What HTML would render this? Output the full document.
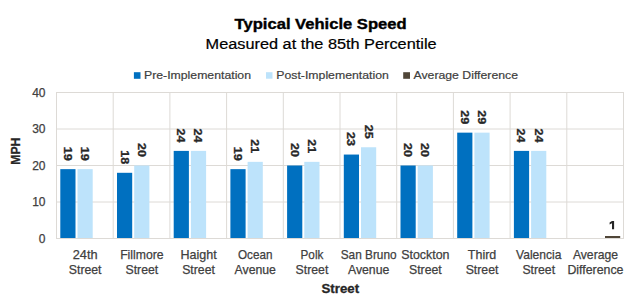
<!DOCTYPE html><html><head><meta charset="utf-8"><style>html,body{margin:0;padding:0;background:#fff;width:640px;height:304px;overflow:hidden}svg{display:block}text{font-family:"Liberation Sans",sans-serif}</style></head><body>
<svg width="640" height="304" viewBox="0 0 640 304">
<text x="320.6" y="29.1" text-anchor="middle" font-weight="bold" font-size="14.4" fill="#000" stroke="#000" stroke-width="0.35" textLength="172" lengthAdjust="spacingAndGlyphs">Typical Vehicle Speed</text>
<text x="321.1" y="48.8" text-anchor="middle" font-size="14" fill="#000" stroke="#000" stroke-width="0.2" textLength="231" lengthAdjust="spacingAndGlyphs">Measured at the 85th Percentile</text>
<rect x="133.9" y="72.2" width="6.6" height="6.6" fill="#0070C0"/>
<text x="144.0" y="79.3" font-size="11.6" fill="#404040" stroke="#404040" stroke-width="0.2" textLength="107" lengthAdjust="spacingAndGlyphs">Pre-Implementation</text>
<rect x="266" y="72.2" width="6.5" height="6.5" fill="#BDE3FB"/>
<text x="276.3" y="79.3" font-size="11.6" fill="#404040" stroke="#404040" stroke-width="0.2" textLength="112.5" lengthAdjust="spacingAndGlyphs">Post-Implementation</text>
<rect x="403.2" y="72.2" width="6.8" height="6.6" fill="#504638"/>
<text x="413.5" y="79.3" font-size="11.6" fill="#404040" stroke="#404040" stroke-width="0.2" textLength="104.5" lengthAdjust="spacingAndGlyphs">Average Difference</text>
<line x1="56.0" y1="92.5" x2="624.0" y2="92.5" stroke="#DDDAD6" stroke-width="1"/>
<line x1="56.0" y1="129.0" x2="624.0" y2="129.0" stroke="#DDDAD6" stroke-width="1"/>
<line x1="56.0" y1="165.5" x2="624.0" y2="165.5" stroke="#DDDAD6" stroke-width="1"/>
<line x1="56.0" y1="202.0" x2="624.0" y2="202.0" stroke="#DDDAD6" stroke-width="1"/>
<line x1="56.0" y1="238.5" x2="624.0" y2="238.5" stroke="#DDDAD6" stroke-width="1"/>
<line x1="56.5" y1="92.0" x2="56.5" y2="239.0" stroke="#DDDAD6" stroke-width="1"/>
<line x1="113.2" y1="92.0" x2="113.2" y2="239.0" stroke="#DDDAD6" stroke-width="1"/>
<line x1="169.9" y1="92.0" x2="169.9" y2="239.0" stroke="#DDDAD6" stroke-width="1"/>
<line x1="226.60000000000002" y1="92.0" x2="226.60000000000002" y2="239.0" stroke="#DDDAD6" stroke-width="1"/>
<line x1="283.3" y1="92.0" x2="283.3" y2="239.0" stroke="#DDDAD6" stroke-width="1"/>
<line x1="340.0" y1="92.0" x2="340.0" y2="239.0" stroke="#DDDAD6" stroke-width="1"/>
<line x1="396.70000000000005" y1="92.0" x2="396.70000000000005" y2="239.0" stroke="#DDDAD6" stroke-width="1"/>
<line x1="453.40000000000003" y1="92.0" x2="453.40000000000003" y2="239.0" stroke="#DDDAD6" stroke-width="1"/>
<line x1="510.1" y1="92.0" x2="510.1" y2="239.0" stroke="#DDDAD6" stroke-width="1"/>
<line x1="566.8" y1="92.0" x2="566.8" y2="239.0" stroke="#DDDAD6" stroke-width="1"/>
<line x1="623.5" y1="92.0" x2="623.5" y2="239.0" stroke="#DDDAD6" stroke-width="1"/>
<text x="45.5" y="96.80" text-anchor="end" font-size="12" fill="#404040" stroke="#404040" stroke-width="0.25">40</text>
<text x="45.5" y="133.30" text-anchor="end" font-size="12" fill="#404040" stroke="#404040" stroke-width="0.25">30</text>
<text x="45.5" y="169.80" text-anchor="end" font-size="12" fill="#404040" stroke="#404040" stroke-width="0.25">20</text>
<text x="45.5" y="206.30" text-anchor="end" font-size="12" fill="#404040" stroke="#404040" stroke-width="0.25">10</text>
<text x="45.5" y="242.80" text-anchor="end" font-size="12" fill="#404040" stroke="#404040" stroke-width="0.25">0</text>
<text transform="translate(19.7,151.2) rotate(-90)" text-anchor="middle" font-size="12.2" font-weight="bold" fill="#262626" stroke="#262626" stroke-width="0.3">MPH</text>
<rect x="60.30" y="169.15" width="15.20" height="68.85" fill="#0070C0"/>
<text transform="translate(63.80,153.65) rotate(90)" text-anchor="middle" font-size="11.2" font-weight="bold" fill="#262626" stroke="#262626" stroke-width="0.3" textLength="14" lengthAdjust="spacingAndGlyphs">19</text>
<rect x="77.50" y="169.15" width="15.20" height="68.85" fill="#BDE3FB"/>
<text transform="translate(81.00,153.65) rotate(90)" text-anchor="middle" font-size="11.2" font-weight="bold" fill="#262626" stroke="#262626" stroke-width="0.3" textLength="14" lengthAdjust="spacingAndGlyphs">19</text>
<text x="85.15" y="258.7" text-anchor="middle" font-size="12.4" fill="#404040" stroke="#404040" stroke-width="0.25" textLength="24.8" lengthAdjust="spacingAndGlyphs">24th</text>
<text x="85.15" y="273.5" text-anchor="middle" font-size="12.4" fill="#404040" stroke="#404040" stroke-width="0.25" textLength="32.7" lengthAdjust="spacingAndGlyphs">Street</text>
<rect x="117.00" y="172.80" width="15.20" height="65.20" fill="#0070C0"/>
<text transform="translate(120.50,157.30) rotate(90)" text-anchor="middle" font-size="11.2" font-weight="bold" fill="#262626" stroke="#262626" stroke-width="0.3" textLength="14" lengthAdjust="spacingAndGlyphs">18</text>
<rect x="134.20" y="165.50" width="15.20" height="72.50" fill="#BDE3FB"/>
<text transform="translate(137.70,150.00) rotate(90)" text-anchor="middle" font-size="11.2" font-weight="bold" fill="#262626" stroke="#262626" stroke-width="0.3" textLength="14" lengthAdjust="spacingAndGlyphs">20</text>
<text x="141.85" y="258.7" text-anchor="middle" font-size="12.4" fill="#404040" stroke="#404040" stroke-width="0.25" textLength="43.4" lengthAdjust="spacingAndGlyphs">Fillmore</text>
<text x="141.85" y="273.5" text-anchor="middle" font-size="12.4" fill="#404040" stroke="#404040" stroke-width="0.25" textLength="32.7" lengthAdjust="spacingAndGlyphs">Street</text>
<rect x="173.70" y="150.90" width="15.20" height="87.10" fill="#0070C0"/>
<text transform="translate(177.20,135.40) rotate(90)" text-anchor="middle" font-size="11.2" font-weight="bold" fill="#262626" stroke="#262626" stroke-width="0.3" textLength="14" lengthAdjust="spacingAndGlyphs">24</text>
<rect x="190.90" y="150.90" width="15.20" height="87.10" fill="#BDE3FB"/>
<text transform="translate(194.40,135.40) rotate(90)" text-anchor="middle" font-size="11.2" font-weight="bold" fill="#262626" stroke="#262626" stroke-width="0.3" textLength="14" lengthAdjust="spacingAndGlyphs">24</text>
<text x="198.55" y="258.7" text-anchor="middle" font-size="12.4" fill="#404040" stroke="#404040" stroke-width="0.25" textLength="36.2" lengthAdjust="spacingAndGlyphs">Haight</text>
<text x="198.55" y="273.5" text-anchor="middle" font-size="12.4" fill="#404040" stroke="#404040" stroke-width="0.25" textLength="32.7" lengthAdjust="spacingAndGlyphs">Street</text>
<rect x="230.40" y="169.15" width="15.20" height="68.85" fill="#0070C0"/>
<text transform="translate(233.90,153.65) rotate(90)" text-anchor="middle" font-size="11.2" font-weight="bold" fill="#262626" stroke="#262626" stroke-width="0.3" textLength="14" lengthAdjust="spacingAndGlyphs">19</text>
<rect x="247.60" y="161.85" width="15.20" height="76.15" fill="#BDE3FB"/>
<text transform="translate(251.10,146.35) rotate(90)" text-anchor="middle" font-size="11.2" font-weight="bold" fill="#262626" stroke="#262626" stroke-width="0.3" textLength="14" lengthAdjust="spacingAndGlyphs">21</text>
<text x="255.25" y="258.7" text-anchor="middle" font-size="12.4" fill="#404040" stroke="#404040" stroke-width="0.25" textLength="34.5" lengthAdjust="spacingAndGlyphs">Ocean</text>
<text x="255.25" y="273.5" text-anchor="middle" font-size="12.4" fill="#404040" stroke="#404040" stroke-width="0.25" textLength="41.4" lengthAdjust="spacingAndGlyphs">Avenue</text>
<rect x="287.10" y="165.50" width="15.20" height="72.50" fill="#0070C0"/>
<text transform="translate(290.60,150.00) rotate(90)" text-anchor="middle" font-size="11.2" font-weight="bold" fill="#262626" stroke="#262626" stroke-width="0.3" textLength="14" lengthAdjust="spacingAndGlyphs">20</text>
<rect x="304.30" y="161.85" width="15.20" height="76.15" fill="#BDE3FB"/>
<text transform="translate(307.80,146.35) rotate(90)" text-anchor="middle" font-size="11.2" font-weight="bold" fill="#262626" stroke="#262626" stroke-width="0.3" textLength="14" lengthAdjust="spacingAndGlyphs">21</text>
<text x="311.95" y="258.7" text-anchor="middle" font-size="12.4" fill="#404040" stroke="#404040" stroke-width="0.25" textLength="22.8" lengthAdjust="spacingAndGlyphs">Polk</text>
<text x="311.95" y="273.5" text-anchor="middle" font-size="12.4" fill="#404040" stroke="#404040" stroke-width="0.25" textLength="32.7" lengthAdjust="spacingAndGlyphs">Street</text>
<rect x="343.80" y="154.55" width="15.20" height="83.45" fill="#0070C0"/>
<text transform="translate(347.30,139.05) rotate(90)" text-anchor="middle" font-size="11.2" font-weight="bold" fill="#262626" stroke="#262626" stroke-width="0.3" textLength="14" lengthAdjust="spacingAndGlyphs">23</text>
<rect x="361.00" y="147.25" width="15.20" height="90.75" fill="#BDE3FB"/>
<text transform="translate(364.50,131.75) rotate(90)" text-anchor="middle" font-size="11.2" font-weight="bold" fill="#262626" stroke="#262626" stroke-width="0.3" textLength="14" lengthAdjust="spacingAndGlyphs">25</text>
<text x="368.65" y="258.7" text-anchor="middle" font-size="12.4" fill="#404040" stroke="#404040" stroke-width="0.25" textLength="55.9" lengthAdjust="spacingAndGlyphs">San Bruno</text>
<text x="368.65" y="273.5" text-anchor="middle" font-size="12.4" fill="#404040" stroke="#404040" stroke-width="0.25" textLength="41.4" lengthAdjust="spacingAndGlyphs">Avenue</text>
<rect x="400.50" y="165.50" width="15.20" height="72.50" fill="#0070C0"/>
<text transform="translate(404.00,150.00) rotate(90)" text-anchor="middle" font-size="11.2" font-weight="bold" fill="#262626" stroke="#262626" stroke-width="0.3" textLength="14" lengthAdjust="spacingAndGlyphs">20</text>
<rect x="417.70" y="165.50" width="15.20" height="72.50" fill="#BDE3FB"/>
<text transform="translate(421.20,150.00) rotate(90)" text-anchor="middle" font-size="11.2" font-weight="bold" fill="#262626" stroke="#262626" stroke-width="0.3" textLength="14" lengthAdjust="spacingAndGlyphs">20</text>
<text x="425.35" y="258.7" text-anchor="middle" font-size="12.4" fill="#404040" stroke="#404040" stroke-width="0.25" textLength="48.3" lengthAdjust="spacingAndGlyphs">Stockton</text>
<text x="425.35" y="273.5" text-anchor="middle" font-size="12.4" fill="#404040" stroke="#404040" stroke-width="0.25" textLength="32.7" lengthAdjust="spacingAndGlyphs">Street</text>
<rect x="457.20" y="132.65" width="15.20" height="105.35" fill="#0070C0"/>
<text transform="translate(460.70,117.15) rotate(90)" text-anchor="middle" font-size="11.2" font-weight="bold" fill="#262626" stroke="#262626" stroke-width="0.3" textLength="14" lengthAdjust="spacingAndGlyphs">29</text>
<rect x="474.40" y="132.65" width="15.20" height="105.35" fill="#BDE3FB"/>
<text transform="translate(477.90,117.15) rotate(90)" text-anchor="middle" font-size="11.2" font-weight="bold" fill="#262626" stroke="#262626" stroke-width="0.3" textLength="14" lengthAdjust="spacingAndGlyphs">29</text>
<text x="482.05" y="258.7" text-anchor="middle" font-size="12.4" fill="#404040" stroke="#404040" stroke-width="0.25" textLength="28.4" lengthAdjust="spacingAndGlyphs">Third</text>
<text x="482.05" y="273.5" text-anchor="middle" font-size="12.4" fill="#404040" stroke="#404040" stroke-width="0.25" textLength="32.7" lengthAdjust="spacingAndGlyphs">Street</text>
<rect x="513.90" y="150.90" width="15.20" height="87.10" fill="#0070C0"/>
<text transform="translate(517.40,135.40) rotate(90)" text-anchor="middle" font-size="11.2" font-weight="bold" fill="#262626" stroke="#262626" stroke-width="0.3" textLength="14" lengthAdjust="spacingAndGlyphs">24</text>
<rect x="531.10" y="150.90" width="15.20" height="87.10" fill="#BDE3FB"/>
<text transform="translate(534.60,135.40) rotate(90)" text-anchor="middle" font-size="11.2" font-weight="bold" fill="#262626" stroke="#262626" stroke-width="0.3" textLength="14" lengthAdjust="spacingAndGlyphs">24</text>
<text x="538.75" y="258.7" text-anchor="middle" font-size="12.4" fill="#404040" stroke="#404040" stroke-width="0.25" textLength="45.3" lengthAdjust="spacingAndGlyphs">Valencia</text>
<text x="538.75" y="273.5" text-anchor="middle" font-size="12.4" fill="#404040" stroke="#404040" stroke-width="0.25" textLength="32.7" lengthAdjust="spacingAndGlyphs">Street</text>
<text x="595.45" y="258.7" text-anchor="middle" font-size="12.4" fill="#404040" stroke="#404040" stroke-width="0.25" textLength="45.1" lengthAdjust="spacingAndGlyphs">Average</text>
<text x="595.45" y="273.5" text-anchor="middle" font-size="12.4" fill="#404040" stroke="#404040" stroke-width="0.25" textLength="56.1" lengthAdjust="spacingAndGlyphs">Difference</text>
<rect x="605.00" y="236" width="15.20" height="2" fill="#504638"/>
<path d="M612 221 H614.1 V229.2 H612 V223.3 L609.6 224.4 V222.5 Z" fill="#262626"/>
<text x="340.3" y="292.9" text-anchor="middle" font-size="12.4" font-weight="bold" fill="#262626" stroke="#262626" stroke-width="0.3" textLength="37.5" lengthAdjust="spacingAndGlyphs">Street</text>
</svg></body></html>
